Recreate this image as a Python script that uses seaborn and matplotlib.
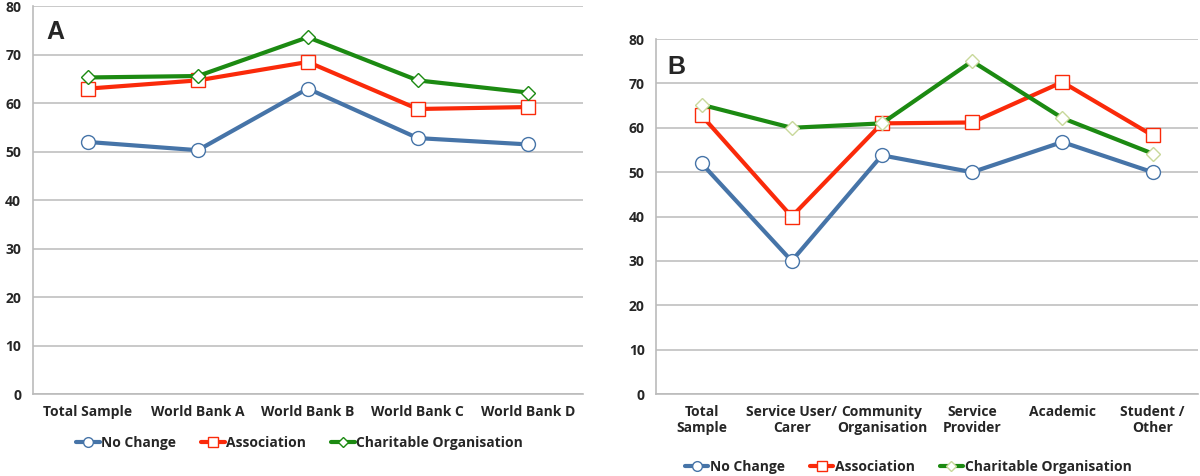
import numpy as np
import pandas as pd
import matplotlib
matplotlib.use("Agg")
import matplotlib.pyplot as plt
import seaborn as sns
from matplotlib.lines import Line2D

sns.set_style("white")
plt.rcParams["font.family"] = ["Open Sans", "DejaVu Sans"]

series_names = ["No Change", "Association", "Charitable Organisation"]

cats_a = ["Total Sample", "World Bank A", "World Bank B", "World Bank C", "World Bank D"]
no_change_a = [52.0, 50.3, 63.0, 52.8, 51.5]
association_a = [63.0, 64.7, 68.5, 58.8, 59.2]
charitable_a = [65.3, 65.6, 73.6, 64.7, 62.2]

cats_b = ["Total\nSample", "Service User/\nCarer", "Community\nOrganisation",
          "Service\nProvider", "Academic", "Student /\nOther"]
no_change_b = [52.0, 30.0, 53.8, 50.0, 56.8, 50.0]
association_b = [62.8, 40.0, 61.0, 61.2, 70.3, 58.3]
charitable_b = [65.2, 60.0, 61.0, 75.0, 62.2, 54.2]

colors = {"No Change": "#4674a8", "Association": "#fa2a0a",
          "Charitable Organisation": "#1c8a12"}
markers = {"No Change": "o", "Association": "s", "Charitable Organisation": "D"}
msizes = {"No Change": 10, "Association": 10, "Charitable Organisation": 7.5}


def make_df(cats, vals):
    rows = []
    for name, v in zip(series_names, vals):
        for i, (c, y) in enumerate(zip(cats, v)):
            rows.append({"pos": i, "category": c, "series": name, "value": y})
    return pd.DataFrame(rows)


def draw_panel(ax, cats, vals, letter, letter_xy, legend_xy, diamond_edge):
    df = make_df(cats, vals)
    for name in series_names:
        sub = df[df["series"] == name]
        mec = colors[name]
        if name == "Charitable Organisation" and diamond_edge is not None:
            mec = diamond_edge
        sns.lineplot(data=sub, x="pos", y="value", ax=ax, color=colors[name],
                     linewidth=3, marker=markers[name], markersize=msizes[name],
                     markerfacecolor="white", markeredgecolor=mec,
                     markeredgewidth=1.0, legend=False, sort=False)
    n = len(cats)
    ax.set_xlim(-0.5, n - 0.5)
    ax.set_ylim(0, 80)
    ax.set_yticks(range(0, 81, 10))
    ax.set_xticks(range(n))
    ax.set_xticklabels(cats, fontsize=10, fontweight="bold")
    ax.set_xticks(np.arange(-0.5, n, 1), minor=True)
    ax.tick_params(axis="x", which="major", length=0, pad=8)
    ax.tick_params(axis="x", which="minor", length=5, color="#bbbbbb", direction="out")
    ax.tick_params(axis="y", length=5, color="#bbbbbb", labelsize=10)
    for lab in ax.get_yticklabels():
        lab.set_fontweight("bold")
    ax.yaxis.grid(True, color="#c0c0c0", linewidth=1.2)
    ax.set_axisbelow(True)
    for s in ["top", "right"]:
        ax.spines[s].set_visible(False)
    for s in ["left", "bottom"]:
        ax.spines[s].set_color("#bbbbbb")
        ax.spines[s].set_linewidth(1.2)
    ax.set_xlabel("")
    ax.set_ylabel("")
    ax.text(letter_xy[0], letter_xy[1], letter, transform=ax.transAxes,
            fontsize=18, fontweight="bold", family="Liberation Sans",
            ha="left", va="top")
    handles = []
    for name in series_names:
        mec = colors[name]
        if name == "Charitable Organisation" and diamond_edge is not None:
            mec = diamond_edge
        handles.append(Line2D([], [], color=colors[name], linewidth=3,
                              marker=markers[name], markersize=msizes[name] * 0.7,
                              markerfacecolor="white", markeredgecolor=mec))
    leg = ax.legend(handles, series_names, loc="center", ncol=3,
                    bbox_to_anchor=legend_xy, frameon=False,
                    handlelength=1.7, handletextpad=0.1, columnspacing=1.8,
                    prop={"weight": "bold", "size": 10})
    return leg


fig = plt.figure(figsize=(12, 4.76), dpi=100)
ax_a = fig.add_axes([0.0275, 0.172, 0.458, 0.815])
ax_b = fig.add_axes([0.547, 0.172, 0.451, 0.746])

draw_panel(ax_a, cats_a, [no_change_a, association_a, charitable_a],
           "A", (0.025, 0.965), (0.485, -0.125), None)
draw_panel(ax_b, cats_b, [no_change_b, association_b, charitable_b],
           "B", (0.02, 0.955), (0.465, -0.205), "#c8d89a")

fig.savefig("out.png", dpi=100)
